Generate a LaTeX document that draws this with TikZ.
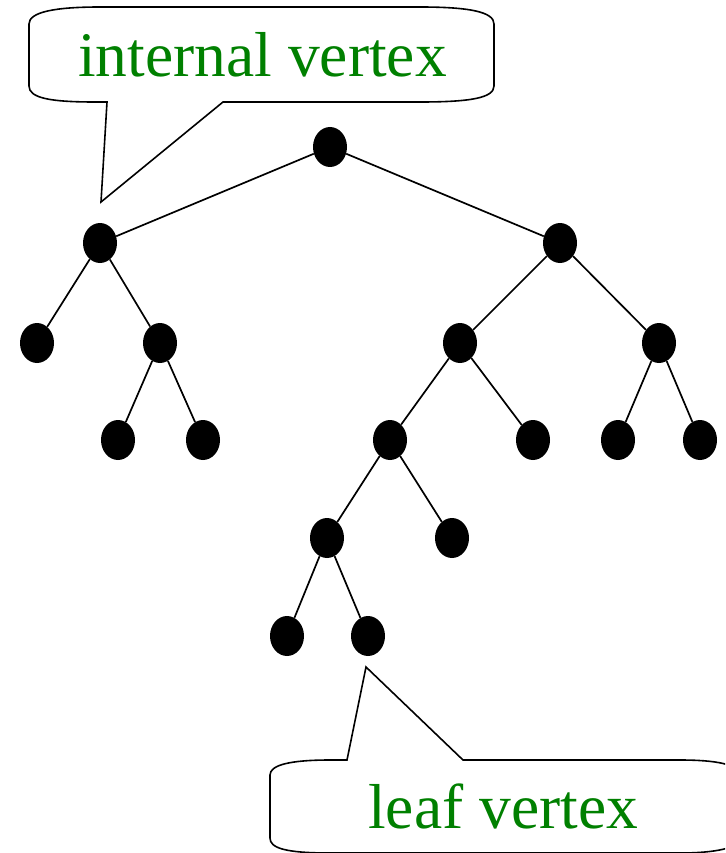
\documentclass[tikz,border=0pt]{standalone}
\usepackage{fontspec}
\setmainfont{Liberation Serif}
\usetikzlibrary{shapes.geometric}

\definecolor{labelgreen}{RGB}{0,128,0}

\tikzset{
  vertex/.style={ellipse, fill=black, inner sep=0pt, minimum width=34pt, minimum height=40pt},
  branch/.style={line width=1.7pt},
  bubble/.style={line width=1.6pt, fill=white, line join=miter},
  bubbletext/.style={anchor=base west, inner sep=0pt, text=labelgreen, font=\fontsize{63.5}{70}\selectfont}
}

\begin{document}
\begin{tikzpicture}[x=1pt, y=-1pt]

\useasboundingbox (0,0) rectangle (725,853);
\clip (0,0) rectangle (725,853);

%vertices:
\node[vertex] (root) at (330,147) {};
\node[vertex] (l)    at (100,243) {};
\node[vertex] (r)    at (560,243) {};
\node[vertex] (ll)   at (37,343) {};
\node[vertex] (lr)   at (160,343) {};
\node[vertex] (lrl)  at (118,440) {};
\node[vertex] (lrr)  at (203,440) {};
\node[vertex] (rl)   at (460,343) {};
\node[vertex] (rr)   at (659,343) {};
\node[vertex] (rll)  at (390,440) {};
\node[vertex] (rlr)  at (533,440) {};
\node[vertex] (rrl)  at (618,440) {};
\node[vertex] (rrr)  at (700,440) {};
\node[vertex] (rlll) at (327,538) {};
\node[vertex] (rllr) at (452,538) {};
\node[vertex] (rllll) at (287,636) {};
\node[vertex] (rlllr) at (368,636) {};

%edges:
\foreach \p/\c in {root/l, root/r, l/ll, l/lr, lr/lrl, lr/lrr, r/rl, r/rr,
                   rl/rll, rl/rlr, rr/rrl, rr/rrr, rll/rlll, rll/rllr,
                   rlll/rllll, rlll/rlllr}
  \draw[branch] (\p) -- (\c);

%callouts:
\coordinate (intip)   at (101,202);
\coordinate (leaftip) at (366,667);

\draw[bubble] (107,102) -- (95,102) .. controls (50,102) and (29,98) .. (29,86)
  -- (29,24) .. controls (29,12) and (55,7) .. (100,7)
  -- (420,7) .. controls (470,7) and (494,12) .. (494,24)
  -- (494,86) .. controls (494,98) and (470,102) .. (420,102)
  -- (223,102) -- (intip) -- cycle;
\node[bubbletext] (internal) at (78,77) {internal vertex};

\draw[bubble] (347,760) -- (leaftip) -- (463,760)
  -- (680,760) .. controls (715,760) and (740,764) .. (740,776)
  -- (740,838) .. controls (740,848) and (715,853) .. (680,853)
  -- (330,853) .. controls (285,853) and (270,848) .. (270,838)
  -- (270,775) .. controls (270,765) and (290,760) .. (330,760) -- cycle;
\node[bubbletext] (leaf) at (368,828) {leaf vertex};

\end{tikzpicture}
\end{document}
